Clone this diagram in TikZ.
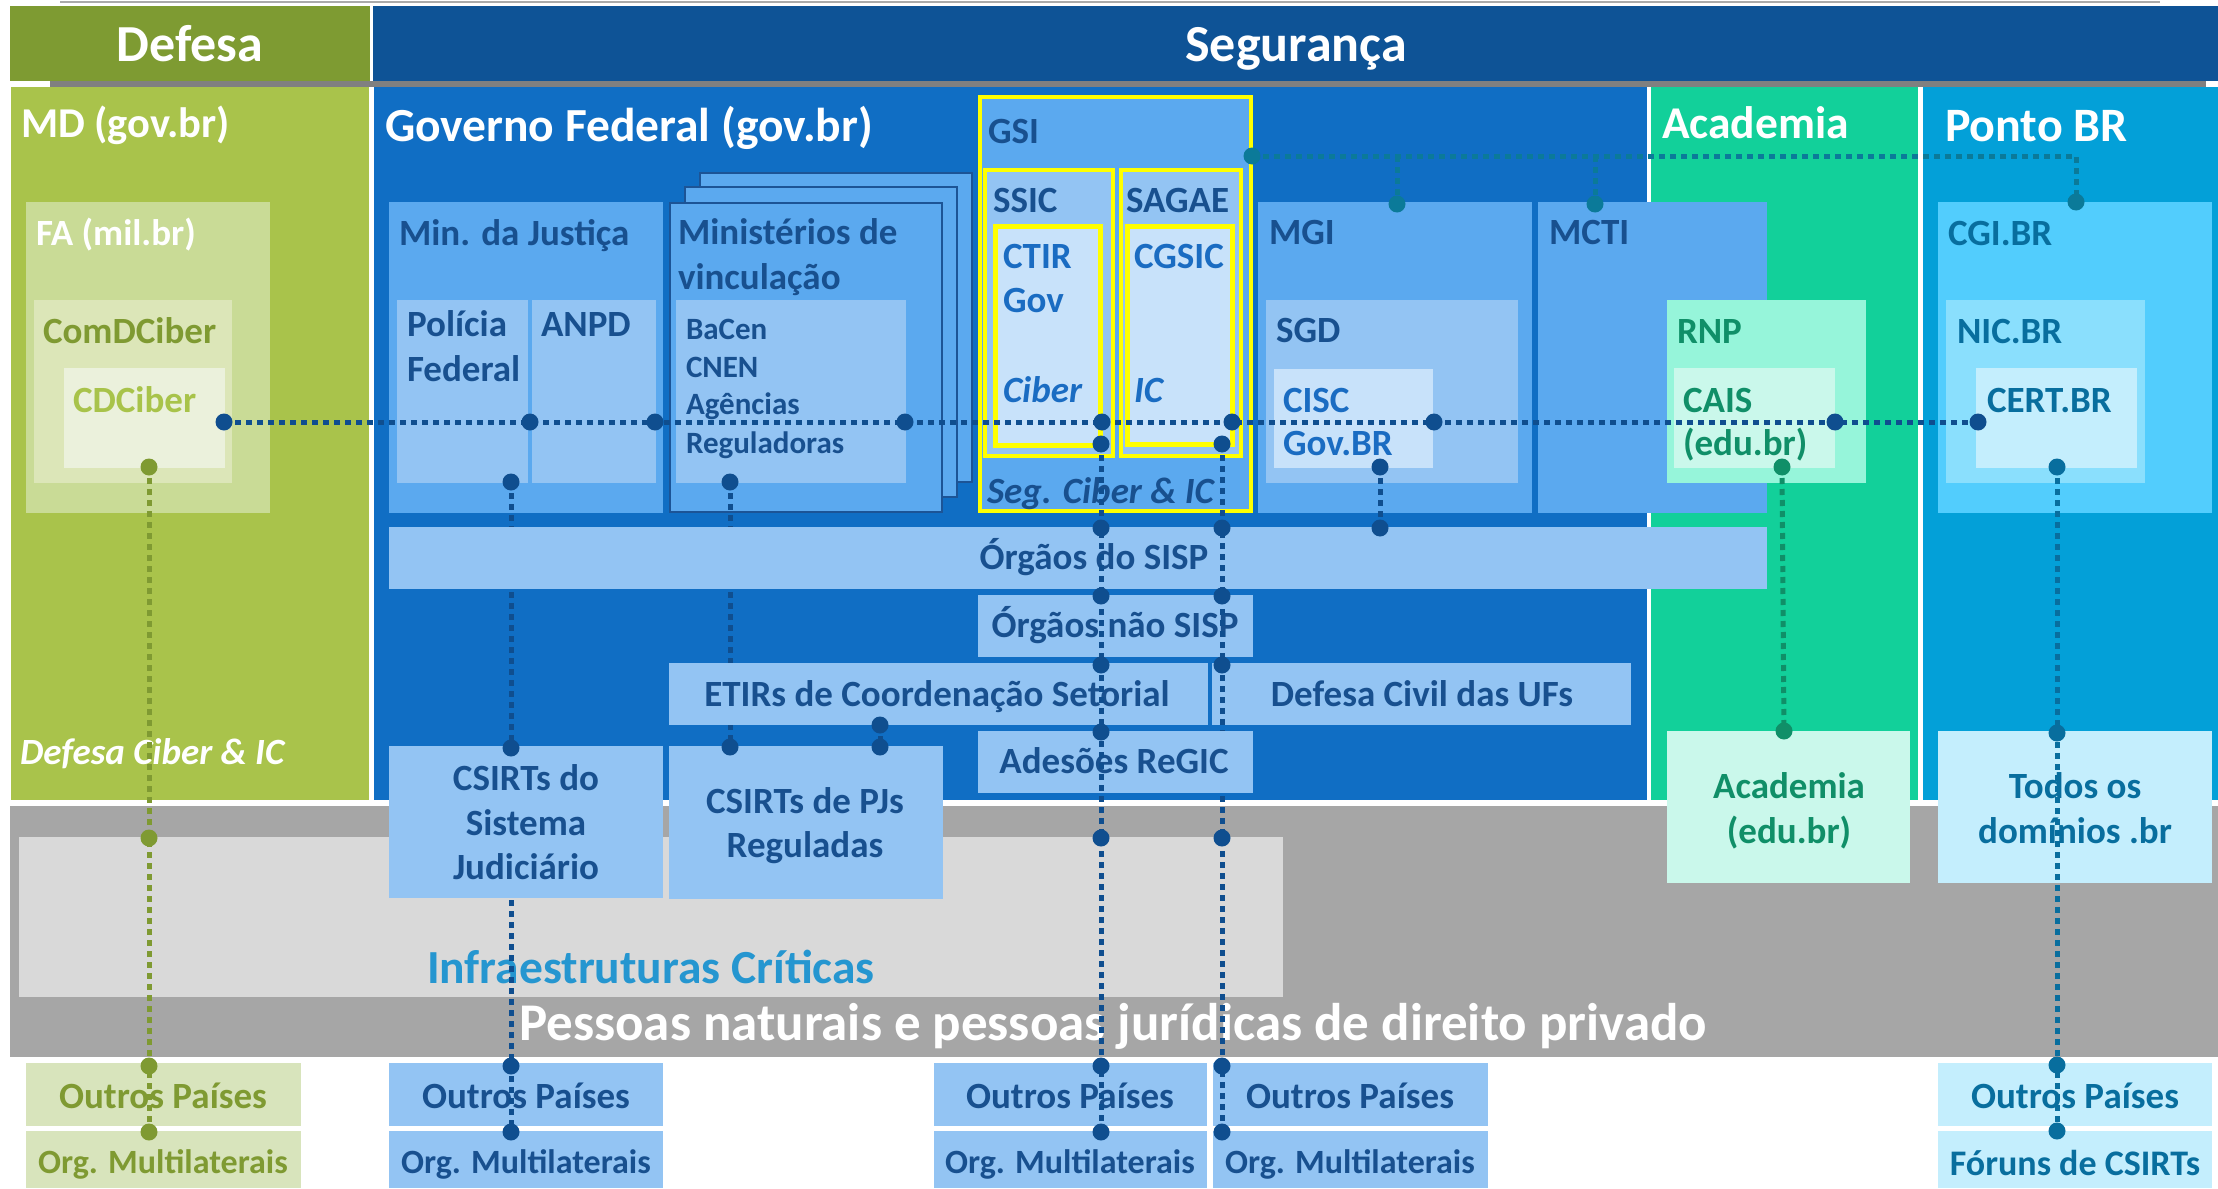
\documentclass[tikz,border=0pt]{standalone}
\usepackage{fontspec}
\setmainfont{Carlito}
\definecolor{hdrDef}{RGB}{126,155,50}
\definecolor{hdrSeg}{RGB}{14,83,150}
\definecolor{colDef}{RGB}{169,195,75}
\definecolor{colGov}{RGB}{16,110,196}
\definecolor{colAca}{RGB}{18,208,154}
\definecolor{colPto}{RGB}{3,160,216}
\definecolor{bMid}{RGB}{91,169,239}
\definecolor{bLight}{RGB}{147,196,243}
\definecolor{bPale}{RGB}{200,226,250}
\definecolor{txDark}{RGB}{24,80,143}
\definecolor{txMid}{RGB}{26,108,194}
\definecolor{lnBlue}{RGB}{15,78,143}
\definecolor{faBox}{RGB}{201,219,150}
\definecolor{comBox}{RGB}{220,230,184}
\definecolor{cdBox}{RGB}{235,241,220}
\definecolor{oliveT}{RGB}{127,154,50}
\definecolor{cdText}{RGB}{168,195,74}
\definecolor{rnpBox}{RGB}{150,245,218}
\definecolor{caisBox}{RGB}{202,248,235}
\definecolor{txGreen}{RGB}{16,143,104}
\definecolor{cgiBox}{RGB}{82,205,253}
\definecolor{nicBox}{RGB}{138,223,253}
\definecolor{certBox}{RGB}{196,238,253}
\definecolor{txTeal}{RGB}{8,110,158}
\definecolor{lnTeal}{RGB}{11,122,153}
\definecolor{grayBand}{RGB}{166,166,166}
\definecolor{grayStrip}{RGB}{128,128,128}
\definecolor{grayTop}{RGB}{170,170,170}
\definecolor{infraBox}{RGB}{217,217,217}
\definecolor{txInfra}{RGB}{37,150,208}
\definecolor{defBot}{RGB}{216,228,188}
\definecolor{ylw}{RGB}{255,255,0}
\definecolor{minBorder}{RGB}{28,84,150}
\newcommand\fHdr{\fontsize{52}{60}\selectfont\bfseries}
\newcommand\fColMD{\fontsize{42.5}{50}\selectfont\bfseries}
\newcommand\fColGov{\fontsize{47.5}{56}\selectfont\bfseries}
\newcommand\fColAca{\fontsize{45.5}{54}\selectfont\bfseries}
\newcommand\fColPto{\fontsize{48}{56}\selectfont\bfseries}
\newcommand\fLbl{\fontsize{37}{44}\selectfont\bfseries}
\newcommand\fOrg{\fontsize{34}{40}\selectfont\bfseries}
\newcommand\fFor{\fontsize{36}{42}\selectfont\bfseries}
\newcommand\fSm{\fontsize{31}{37}\selectfont\bfseries}
\newcommand\fInfra{\fontsize{47.5}{56}\selectfont\bfseries}
\newcommand\fPes{\fontsize{53}{62}\selectfont\bfseries}
\newcommand\bx[7][]{\node[boxs, fill=#7, minimum width={#5pt-#3pt}, minimum height={#6pt-#4pt}, #1] (#2) at ({(#3+#5)/2},{(#4+#6)/2}) {};}
\newcommand\tx[5][]{\node[lbl,#1] (#2) at (#3,#4) {#5};}
\newcommand\pdot[2]{\fill[#1] (#2) circle (8.5pt);}
\begin{document}
\begin{tikzpicture}[x=1pt,y=-1pt,
  boxs/.style={rectangle, inner sep=0pt, outer sep=0pt},
  lbl/.style={anchor=base west, inner sep=0pt, outer sep=0pt, font=\fLbl, text=txDark},
  clbl/.style={anchor=base},
  wt/.style={text=white},
  dl/.style={line width=5pt, dash pattern=on 6pt off 5pt, draw=lnBlue},
  ybord/.style={draw=ylw, line width=4pt},
  mvbord/.style={draw=minBorder, line width=2.7pt}]
\useasboundingbox (0,0) rectangle (2218,1188);
\fill[white] (0,0) rectangle (2218,1188);
\bx{gtop}{60}{1.5}{2160}{3.5}{grayTop}
% ---------- headers ----------
\bx{hDef}{10}{6}{370}{81}{hdrDef}
\bx{hSeg}{373}{6}{2218}{81}{hdrSeg}
\tx[clbl,wt,font=\fHdr]{tDef}{190}{62}{Defesa}
\tx[clbl,wt,font=\fHdr]{tSeg}{1296}{62}{Segurança}
\bx{gstrip}{50}{81}{2206}{87}{grayStrip}
% ---------- columns ----------
\bx{cDef}{11}{87}{369}{800}{colDef}
\bx{cGov}{374}{87}{1647}{800}{colGov}
\bx{cAca}{1651}{87}{1918}{800}{colAca}
\bx{cPto}{1923}{87}{2218}{800}{colPto}
\tx[wt,font=\fColMD]{tMD}{21}{137}{MD (gov.br)}
\tx[wt,font=\fColGov]{tGov}{385}{142}{Governo Federal (gov.br)}
\tx[wt,font=\fColAca]{tAca}{1662}{139}{Academia}
\tx[wt,font=\fColPto]{tPto}{1945}{142}{Ponto BR}
\tx[wt,font=\fLbl\itshape]{tDCI}{20}{764}{Defesa Ciber \& IC}
% ---------- private band ----------
\bx{band}{10}{806}{2218}{1057}{grayBand}
\bx{infra}{19}{837}{1283}{997}{infraBox}
\tx[font=\fInfra,text=txInfra]{tInfra}{427}{983}{Infraestruturas Críticas}
\tx[wt,font=\fPes]{tPes}{519}{1040}{Pessoas naturais e pessoas jurídicas de direito privado}
% ---------- bottom boxes ----------
\bx{dOP}{26}{1063}{301}{1126}{defBot}
\bx{dOM}{26}{1131}{301}{1188}{defBot}
\bx{gOP}{389}{1063}{663}{1126}{bLight}
\bx{gOM}{389}{1131}{663}{1188}{bLight}
\bx{aOP}{934}{1063}{1207}{1126}{bLight}
\bx{aOM}{934}{1131}{1207}{1188}{bLight}
\bx{bOP}{1213}{1063}{1488}{1126}{bLight}
\bx{bOM}{1213}{1131}{1488}{1188}{bLight}
\bx{pOP}{1938}{1063}{2212}{1126}{certBox}
\bx{pFC}{1938}{1131}{2212}{1188}{certBox}
\tx[clbl,text=oliveT]{tdOP}{163}{1108}{Outros Países}
\tx[clbl,text=oliveT,font=\fOrg]{tdOM}{163}{1173}{Org. Multilaterais}
\tx[clbl]{tgOP}{526}{1108}{Outros Países}
\tx[clbl,font=\fOrg]{tgOM}{526}{1173}{Org. Multilaterais}
\tx[clbl]{taOP}{1070}{1108}{Outros Países}
\tx[clbl,font=\fOrg]{taOM}{1070}{1173}{Org. Multilaterais}
\tx[clbl]{tbOP}{1350}{1108}{Outros Países}
\tx[clbl,font=\fOrg]{tbOM}{1350}{1173}{Org. Multilaterais}
\tx[clbl,text=txTeal]{tpOP}{2075}{1108}{Outros Países}
\tx[clbl,text=txTeal,font=\fFor]{tpFC}{2075}{1175}{Fóruns de CSIRTs}
% ---------- Defesa boxes ----------
\bx{fa}{26}{202}{270}{513}{faBox}
\bx{com}{34}{300}{232}{483}{comBox}
\bx{cd}{64}{368}{225}{468}{cdBox}
\tx[wt]{tFA}{36}{245}{FA (mil.br)}
\tx[text=oliveT]{tCom}{43}{343}{ComDCiber}
\tx[text=cdText]{tCD}{73}{412}{CDCiber}
% ---------- Governo boxes ----------
\bx{mj}{389}{202}{663}{513}{bMid}
\bx{pf}{397}{300}{528}{483}{bLight}
\bx{anpd}{532}{300}{656}{483}{bLight}
\tx{tMJ}{399}{245}{Min. da Justiça}
\tx{tPF1}{407}{336}{Polícia}
\tx{tPF2}{407}{381}{Federal}
\tx{tANPD}{541}{336}{ANPD}
\bx[mvbord]{mv3}{700}{173}{972}{482}{bMid}
\bx[mvbord]{mv2}{685}{187}{957}{497}{bMid}
\bx[mvbord]{mv1}{670}{203}{942}{512}{bMid}
\bx{mvin}{676}{300}{906}{483}{bLight}
\tx{tMV1}{678}{244}{Ministérios de}
\tx{tMV2}{678}{289}{vinculação}
\tx[font=\fSm]{tBa}{686}{339}{BaCen}
\tx[font=\fSm]{tCn}{686}{377}{CNEN}
\tx[font=\fSm]{tAg}{686}{414}{Agências}
\tx[font=\fSm]{tRe}{686}{453}{Reguladoras}
% GSI
\bx[ybord]{gsi}{980}{97}{1251}{511}{bMid}
\bx[ybord]{ssic}{985}{170}{1113}{456}{bLight}
\bx[ybord,line width=5pt]{ctir}{995}{226}{1100}{445}{bPale}
\bx[ybord]{sagae}{1121}{170}{1241}{456}{bLight}
\bx[ybord,line width=5pt]{cgsic}{1127}{226}{1232}{444}{bPale}
\tx{tGSI}{988}{143}{GSI}
\tx{tSSIC}{993}{212}{SSIC}
\tx{tSAGAE}{1126}{212}{SAGAE}
\tx[text=txMid]{tCT1}{1003}{268}{CTIR}
\tx[text=txMid]{tCT2}{1003}{312}{Gov}
\tx[text=txMid,font=\fLbl\itshape]{tCT3}{1003}{402}{Ciber}
\tx[text=txMid]{tCG1}{1134}{268}{CGSIC}
\tx[text=txMid,font=\fLbl\itshape]{tCG2}{1134}{402}{IC}
\tx[font=\fLbl\itshape]{tSeg}{987}{503}{Seg. Ciber \& IC}
% MGI / MCTI
\bx{mgi}{1258}{202}{1532}{513}{bMid}
\bx{sgd}{1266}{300}{1518}{483}{bLight}
\bx{cisc}{1274}{369}{1433}{468}{bPale}
\bx{mcti}{1538}{202}{1767}{513}{bMid}
\tx{tMGI}{1269}{244}{MGI}
\tx{tSGD}{1276}{342}{SGD}
\tx[text=txMid]{tCI1}{1283}{412}{CISC}
\tx[text=txMid]{tCI2}{1283}{455}{Gov.BR}
\tx{tMCTI}{1549}{244}{MCTI}
% Academia
\bx{rnp}{1667}{300}{1866}{483}{rnpBox}
\bx{cais}{1674}{368}{1835}{468}{caisBox}
\tx[text=txGreen]{tRNP}{1677}{343}{RNP}
\tx[text=txGreen]{tCA1}{1683}{412}{CAIS}
\tx[text=txGreen]{tCA2}{1683}{455}{(edu.br)}
% Ponto BR
\bx{cgi}{1938}{202}{2212}{513}{cgiBox}
\bx{nic}{1946}{300}{2145}{483}{nicBox}
\bx{cert}{1976}{368}{2137}{468}{certBox}
\tx[text=txTeal]{tCGI}{1948}{245}{CGI.BR}
\tx[text=txTeal]{tNIC}{1957}{343}{NIC.BR}
\tx[text=txTeal]{tCERT}{1987}{412}{CERT.BR}
% ---------- coordinates ----------
\coordinate (cdE) at (224,422);
\coordinate (pfE) at (530,422);
\coordinate (anpdE) at (655,422);
\coordinate (mvinE) at (905,422);
\coordinate (ctirE) at (1102,422);
\coordinate (cgsicE) at (1232,422);
\coordinate (ciscE) at (1434,422);
\coordinate (caisE) at (1835,422);
\coordinate (certW) at (1978,422);
\coordinate (cdS) at (149,467);
\coordinate (oInf) at (149,838);
\coordinate (oOP) at (149,1066);
\coordinate (oOM) at (149,1132);
\coordinate (pfS) at (511,482);
\coordinate (pfCS) at (511,748);
\coordinate (pfOP) at (511,1066);
\coordinate (pfOM) at (511,1132);
\coordinate (mvS) at (730,482);
\coordinate (mvPJ) at (730,747);
\coordinate (etS) at (880,725);
\coordinate (etPJ) at (880,747);
\coordinate (ctS) at (1101,444);
\coordinate (a1) at (1101,528);
\coordinate (a2) at (1101,596);
\coordinate (a3) at (1101,665);
\coordinate (a4) at (1101,732);
\coordinate (a5) at (1101,838);
\coordinate (a6) at (1101,1066);
\coordinate (a7) at (1101,1132);
\coordinate (cgS) at (1222,444);
\coordinate (b1) at (1222,528);
\coordinate (b2) at (1222,596);
\coordinate (b3) at (1222,665);
\coordinate (b5) at (1222,838);
\coordinate (b6) at (1222,1066);
\coordinate (b7) at (1222,1132);
\coordinate (ciS) at (1380,467);
\coordinate (ciSISP) at (1380,528);
\coordinate (caS) at (1782,467);
\coordinate (acN) at (1784,731);
\coordinate (ceS) at (2057,467);
\coordinate (p1) at (2057,733);
\coordinate (p2) at (2057,1065);
\coordinate (p3) at (2057,1131);
\coordinate (gsiE) at (1252,156);
\coordinate (mgiN) at (1397,204);
\coordinate (mctiN) at (1595,204);
\coordinate (cgiN) at (2076,202);
% ---------- lines under boxes ----------
\draw[dl] (pfS) -- (pfOM);
\draw[dl] (mvS) -- (mvPJ);
% ---------- lower Governo boxes ----------
\bx{sisp}{389}{527}{1767}{589}{bLight}
\bx{nsisp}{978}{595}{1253}{657}{bLight}
\bx{etir}{669}{663}{1208}{725}{bLight}
\bx{dcivil}{1212}{663}{1631}{725}{bLight}
\bx{csj}{389}{746}{663}{898}{bLight}
\bx{cspj}{669}{746}{943}{899}{bLight}
\tx[clbl]{tSISP}{1094}{569}{Órgãos do SISP}
\tx[clbl]{tNSISP}{1115}{637}{Órgãos não SISP}
\tx[clbl]{tETIR}{937}{706}{ETIRs de Coordenação Setorial}
\tx[clbl]{tDCiv}{1422}{706}{Defesa Civil das UFs}
\tx[clbl]{tCSJ1}{526}{790}{CSIRTs do}
\tx[clbl]{tCSJ2}{526}{835}{Sistema}
\tx[clbl]{tCSJ3}{526}{879}{Judiciário}
\tx[clbl]{tPJ1}{805}{813}{CSIRTs de PJs}
\tx[clbl]{tPJ2}{805}{857}{Reguladas}
\draw[dl] (cgS) -- (b7);
\bx{regic}{978}{731}{1253}{793}{bLight}
\tx[clbl]{tREG}{1114}{773}{Adesões ReGIC}
\draw[dl] (ctS) -- (a7);
% Academia / Ponto BR lower boxes
\bx{acad}{1667}{731}{1910}{883}{caisBox}
\bx{todos}{1938}{731}{2212}{883}{certBox}
\tx[clbl,text=txGreen]{tAC1}{1789}{798}{Academia}
\tx[clbl,text=txGreen]{tAC2}{1789}{843}{(edu.br)}
\tx[clbl,text=txTeal]{tTD1}{2075}{798}{Todos os}
\tx[clbl,text=txTeal]{tTD2}{2075}{843}{domínios .br}
% ---------- top connectors ----------
\draw[dl] (cdE) -- (certW);
\draw[dl,draw=oliveT] (cdS) -- (oOM);
\draw[dl] (etS) -- (etPJ);
\draw[dl] (ciS) -- (ciSISP);
\draw[dl,draw=txGreen] (caS) -- (acN);
\draw[dl,draw=txTeal] (ceS) -- (p3);
\draw[dl,draw=lnTeal] (gsiE) -- (gsiE -| cgiN) -- (cgiN);
\draw[dl,draw=lnTeal] (gsiE -| mgiN) -- (mgiN);
\draw[dl,draw=lnTeal] (gsiE -| mctiN) -- (mctiN);
% ---------- dots ----------
\foreach \c in {cdE,pfE,anpdE,mvinE,ctirE,cgsicE,ciscE,caisE,certW,
  pfS,pfCS,pfOP,pfOM,mvS,mvPJ,etS,etPJ,ctS,a1,a2,a3,a4,a5,a6,a7,
  cgS,b1,b2,b3,b5,b6,b7,ciS,ciSISP} {\pdot{lnBlue}{\c}}
\foreach \c in {cdS,oInf,oOP,oOM} {\pdot{oliveT}{\c}}
\foreach \c in {caS,acN} {\pdot{txGreen}{\c}}
\foreach \c in {ceS,p1,p2,p3} {\pdot{txTeal}{\c}}
\foreach \c in {gsiE,mgiN,mctiN,cgiN} {\pdot{lnTeal}{\c}}
\end{tikzpicture}
\end{document}
